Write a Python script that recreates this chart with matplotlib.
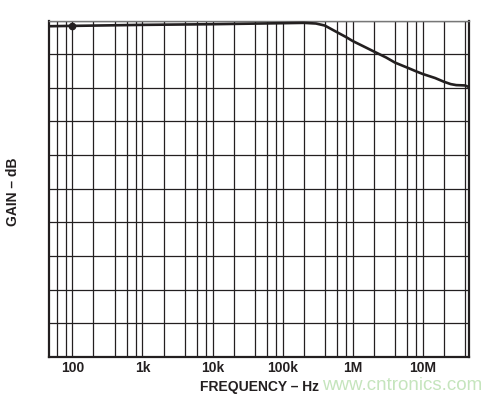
import matplotlib
matplotlib.use("Agg")
import matplotlib.pyplot as plt
from matplotlib.ticker import LogLocator, FixedLocator, NullFormatter, MultipleLocator

# Data
freq_hz = [46.5, 100, 1e3, 1e4, 1e5, 2e5, 3e5, 4e5, 5e5, 6e5, 8e5, 1e6, 1.4e6, 2e6, 3e6,
           4e6, 6e6, 8e6, 1e7, 1.5e7, 2e7, 2.5e7, 3e7, 4e7, 4.56e7]
gain_db = [0.83, 0.84, 0.87, 0.89, 0.92, 0.93, 0.91, 0.85, 0.74, 0.65, 0.51, 0.39, 0.24, 0.08, -0.10,
           -0.25, -0.40, -0.51, -0.59, -0.71, -0.82, -0.89, -0.92, -0.93, -0.98]
marker_freq = [100]
marker_gain = [0.84]
tick_freqs = [1e2, 1e3, 1e4, 1e5, 1e6, 1e7]
tick_labels = ["100", "1k", "10k", "100k", "1M", "10M"]

ink = "#231f20"
plt.rcParams['font.family'] = ['Liberation Sans', 'DejaVu Sans']

fig = plt.figure(figsize=(5.04, 3.98), dpi=100)
ax = fig.add_axes([49/504, 1-357/398, 420/504, (357-20.5)/398])

ax.set_xscale('log')
ax.set_xlim(46.5, 4.56e7)
ax.set_ylim(-9, 1)

ax.plot(freq_hz, gain_db, color=ink, lw=1.9, solid_capstyle='butt', solid_joinstyle='round', zorder=3)
ax.plot(marker_freq, marker_gain, 'o', color=ink, ms=4.5, zorder=4)

ax.xaxis.set_major_locator(FixedLocator(tick_freqs))
ax.set_xticklabels(tick_labels)
ax.xaxis.set_minor_locator(LogLocator(base=10, subs=(2, 4, 6, 8), numticks=20))
ax.xaxis.set_minor_formatter(NullFormatter())
ax.yaxis.set_major_locator(MultipleLocator(1))
ax.set_yticklabels([])
ax.tick_params(which='both', length=0)
ax.tick_params(axis='x', labelsize=10, pad=3, colors=ink)
for lbl in ax.get_xticklabels():
    lbl.set_fontweight('bold')

ax.grid(True, which='both', axis='x', color=ink, lw=0.9)
ax.grid(True, which='major', axis='y', color=ink, lw=0.9)

for side in ['left', 'bottom', 'right']:
    ax.spines[side].set_linewidth(1.6)
    ax.spines[side].set_color(ink)
ax.spines['top'].set_linewidth(1.0)
ax.spines['top'].set_color('#777777')

fig.text(259/504, 1-387/398, "FREQUENCY – Hz", ha='center', va='center',
         fontsize=10, fontweight='bold', color=ink)
fig.text(13/504, 1-192/398, "GAIN – dB", ha='center', va='center', rotation=90,
         fontsize=10, fontweight='bold', color=ink)
fig.text(402/504, 1-386/398, "www.cntronics.com", ha='center', va='center',
         fontsize=13.5, color='#c5e5bd')

fig.savefig("out.png", dpi=100)
